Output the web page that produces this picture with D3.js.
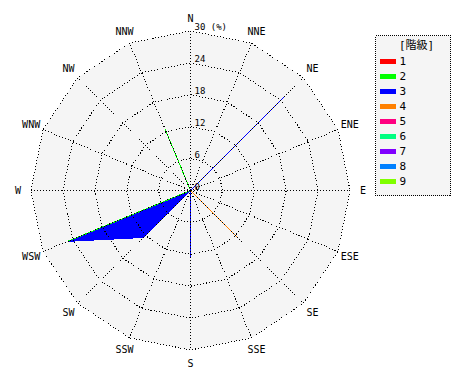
<!DOCTYPE html>
<html>
<head>
<meta charset="utf-8">
<script src="https://cdn.jsdelivr.net/npm/d3@7"></script>
<style>
  html, body { margin: 0; padding: 0; background: #ffffff; }
  svg { display: block; }
  text { font-family: "DejaVu Sans Mono", "Liberation Mono", monospace; fill: #000; }
</style>
</head>
<body>
<svg id="chart" width="470" height="380"></svg>
<script>
// ---- data ----
const directions = ["N","NNE","NE","ENE","E","ESE","SE","SSE","S","SSW","SW","WSW","W","WNW","NW","NNW"];
const classNames = ["1","2","3","4","5","6","7","8","9"];
const classColors = ["#ff0000","#00ff00","#0000ff","#ff8000","#ff0080","#00ff80","#8000ff","#0080ff","#80ff00"];
const class1 = [0,0,0,0,0,0,0,0,0,0,0,0,0,0,0,0];
const class2 = [0,0,0,0,0,0,0,0,0,0,0,25,0,0,0,12.5];
const class3 = [0,0,25,0,0,0,0,0,12.5,0,12.5,0,0,0,0,0];
const class4 = [0,0,0,0,0,0,12.5,0,0,0,0,0,0,0,0,0];
const class5 = [0,0,0,0,0,0,0,0,0,0,0,0,0,0,0,0];
const class6 = [0,0,0,0,0,0,0,0,0,0,0,0,0,0,0,0];
const class7 = [0,0,0,0,0,0,0,0,0,0,0,0,0,0,0,0];
const class8 = [0,0,0,0,0,0,0,0,0,0,0,0,0,0,0,0];
const class9 = [0,0,0,0,0,0,0,0,0,0,0,0,0,0,0,0];
const ringTicks = [0, 6, 12, 18, 24, 30];
const tickLabels = ["0", "6", "12", "18", "24", "30 (%)"];
const legendTitle = "[階級]";

// ---- layout ----
const svg = d3.select("#chart");
const cx = 190.5, cy = 190.5, R = 159.5;
const r = d3.scaleLinear().domain([0, 30]).range([0, R]);
const ang = d3.scaleLinear().domain([0, directions.length]).range([0, 2 * Math.PI]);
const g = svg.append("g").attr("transform", `translate(${cx},${cy})`);

const ringLine = d3.lineRadial()
  .angle((d, i) => ang(i))
  .radius(d => r(d))
  .curve(d3.curveLinearClosed);

// background polygon
g.append("path")
  .attr("d", ringLine(directions.map(() => 30)))
  .attr("fill", "#f5f5f5")
  .attr("stroke", "none");

// stacked series (cumulative), drawn from highest class down
const series = [class1, class2, class3, class4, class5, class6, class7, class8, class9];
const cumulative = [];
series.forEach((s, k) => {
  cumulative.push(s.map((v, i) => v + (k > 0 ? cumulative[k - 1][i] : 0)));
});
for (let k = series.length - 1; k >= 0; k--) {
  const vals = cumulative[k];
  if (d3.max(vals) <= 0) continue;
  g.append("path")
    .attr("d", ringLine(vals))
    .attr("fill", classColors[k])
    .attr("stroke", classColors[k])
    .attr("stroke-width", 1)
    .attr("shape-rendering", "crispEdges");
}

// grid rings
ringTicks.filter(t => t > 0).forEach(t => {
  g.append("path")
    .attr("d", ringLine(directions.map(() => t)))
    .attr("fill", "none")
    .attr("stroke", "#000")
    .attr("stroke-width", 1)
    .attr("stroke-dasharray", "1,2")
    .attr("shape-rendering", "crispEdges");
});

// radial lines
directions.forEach((d, i) => {
  const a = ang(i);
  g.append("line")
    .attr("x1", 0).attr("y1", 0)
    .attr("x2", r(30) * Math.sin(a))
    .attr("y2", -r(30) * Math.cos(a))
    .attr("stroke", "#000")
    .attr("stroke-width", 1)
    .attr("stroke-dasharray", "1,2")
    .attr("shape-rendering", "crispEdges");
});

// direction labels
directions.forEach((d, i) => {
  const a = ang(i);
  const lr = R + 13;
  g.append("text")
    .attr("x", lr * Math.sin(a))
    .attr("y", -lr * Math.cos(a))
    .attr("text-anchor", "middle")
    .attr("dominant-baseline", "central")
    .attr("font-size", 10)
    .text(d);
});

// tick labels
ringTicks.forEach((t, i) => {
  g.append("text")
    .attr("x", 4)
    .attr("y", -r(t) - 1)
    .attr("font-size", 9)
    .text(tickLabels[i]);
});

// legend
const lg = svg.append("g").attr("transform", "translate(375.5,35.5)");
lg.append("rect")
  .attr("width", 75).attr("height", 160)
  .attr("fill", "#f5f5f5")
  .attr("stroke", "#000")
  .attr("stroke-dasharray", "1,1")
  .attr("shape-rendering", "crispEdges");
lg.append("text")
  .attr("x", 41).attr("y", 13)
  .attr("text-anchor", "middle")
  .attr("font-size", 11)
  .style("font-family", "'DejaVu Sans Mono', 'Noto Sans CJK JP', monospace")
  .attr("fill", "#333")
  .text(legendTitle);
classNames.forEach((c, k) => {
  const y = 25 + k * 15;
  lg.append("rect")
    .attr("x", 4.5).attr("y", y - 2)
    .attr("width", 16).attr("height", 5)
    .attr("fill", classColors[k])
    .attr("shape-rendering", "crispEdges");
  lg.append("text")
    .attr("x", 24).attr("y", y + 0.5)
    .attr("dominant-baseline", "central")
    .attr("font-size", 11)
    .text(c);
});
</script>
</body>
</html>
